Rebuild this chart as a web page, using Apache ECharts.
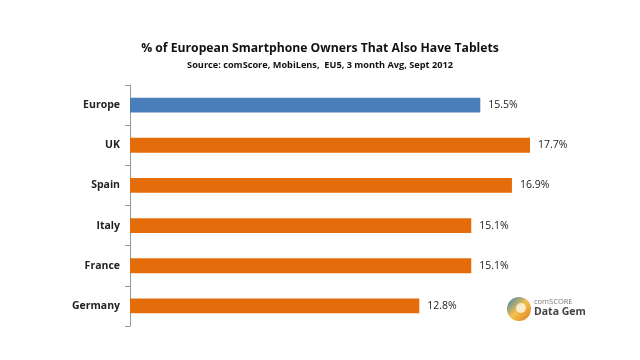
<!DOCTYPE html>
<html><head><meta charset="utf-8">
<script src="https://cdn.jsdelivr.net/npm/echarts@6/dist/echarts.min.js"></script>
<style>html,body{margin:0;padding:0;background:#fff}#c{width:640px;height:360px}</style>
</head><body><div id="c"></div>
<script>
const categories = ["Europe", "UK", "Spain", "Italy", "France", "Germany"];
const values = [15.5, 17.7, 16.9, 15.1, 15.1, 12.8];
const highlight = "Europe";
const chart = echarts.init(document.getElementById('c'));
chart.setOption({
  animation: false,
  backgroundColor: '#fff',
  title: [
    {text: '% of European Smartphone Owners That Also Have Tablets', left: 'center', top: 38,
     textStyle: {fontFamily: 'Open Sans', fontWeight: 'bold', fontSize: 12.2, color: '#111'}},
    {text: 'Source: comScore, MobiLens,  EU5, 3 month Avg, Sept 2012', left: 'center', top: 56,
     textStyle: {fontFamily: 'Open Sans', fontWeight: 'bold', fontSize: 9.2, color: '#111'}}
  ],
  grid: {left: 130, top: 85, height: 241, right: 58},
  xAxis: {type: 'value', min: 0, max: 20, show: false},
  yAxis: {type: 'category', data: categories, inverse: true,
    axisLine: {show: true, lineStyle: {color: '#999'}},
    axisTick: {show: true, length: 5, lineStyle: {color: '#999'}},
    axisLabel: {fontFamily: 'Open Sans', fontWeight: 'bold', fontSize: 10.5, color: '#222', margin: 10}
  },
  series: [{
    type: 'bar', barWidth: '37%',
    data: values.map((v, i) => ({value: v, itemStyle: {color: categories[i] === highlight ? '#4A7EBB' : '#E46C0A'}})),
    label: {show: true, position: 'right', distance: 8, formatter: p => p.value.toFixed(1) + '%',
      fontFamily: 'Open Sans', fontSize: 10.5, color: '#222'}
  }],
  graphic: [
    {type: 'circle', shape: {cx: 519, cy: 309, r: 12},
     style: {fill: new echarts.graphic.LinearGradient(0, 0, 1, 1, [
       {offset: 0, color: '#2a7fc2'}, {offset: 0.5, color: '#f4c24a'}, {offset: 1, color: '#e07a1c'}])}},
    {type: 'circle', shape: {cx: 521, cy: 308, r: 5}, style: {fill: '#fff', opacity: 0.7}},
    {type: 'text', left: 534, top: 298, style: {text: 'comSCORE', fontFamily: 'Open Sans', fontSize: 7.5, fill: '#777'}},
    {type: 'text', left: 534, top: 307, style: {text: 'Data Gem', fontFamily: 'Open Sans', fontWeight: 'bold', fontSize: 10.5, fill: '#444'}}
  ]
});
</script></body></html>
